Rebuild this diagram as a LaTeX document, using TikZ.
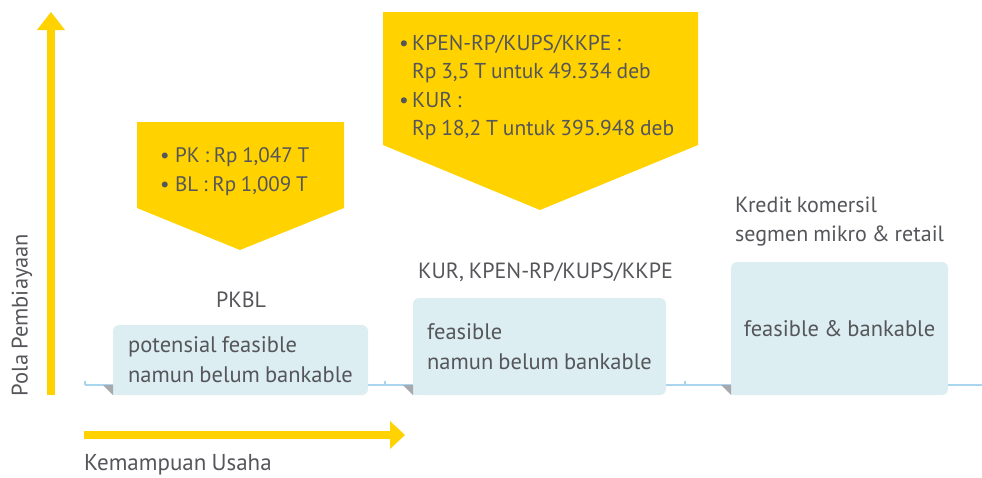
\documentclass[tikz,border=0pt]{standalone}
\usepackage{fontspec}
\setmainfont[WordSpace=0.85]{PT Sans}
\definecolor{axisyellow}{HTML}{FFD200}
\definecolor{boxblue}{HTML}{DCEEF2}
\definecolor{lineblue}{HTML}{A9D5EE}
\definecolor{txtgray}{HTML}{55565A}
\definecolor{foldgray}{HTML}{A7A9AC}
\tikzset{
  stagebox/.style={fill=boxblue, rounded corners=6pt, inner sep=0pt, outer sep=0pt,
    anchor=south west, text=txtgray, align=left, font=\fontsize{22.5}{30}\selectfont},
  lbl/.style={text=txtgray, inner sep=0pt, font=\fontsize{22}{29}\selectfont},
  bul/.style={lbl, align=left, font=\fontsize{21.5}{28.3}\selectfont},
}
\newcommand{\bulitem}{\makebox[13pt][l]{•}}
\newcommand{\bulgap}{\hspace*{13pt}}
\newcommand{\bulitemwide}{\makebox[15pt][l]{•}}
\begin{document}
\begin{tikzpicture}[x=1pt,y=-1pt]
\useasboundingbox (0,0) rectangle (982,477);

% axes
\fill[axisyellow] (47,30) rectangle (55,395);
\fill[axisyellow] (37,30) -- (65,30) -- (51,12) -- cycle;
\fill[axisyellow] (84,431) rectangle (391,439);
\fill[axisyellow] (390,421) -- (405,435) -- (390,449) -- cycle;
\node[lbl, rotate=90, font=\fontsize{22.5}{29}\selectfont] (yaxis) at (22,315) {Pola Pembiayaan};
\node[lbl, anchor=west, font=\fontsize{23}{29}\selectfont] (xaxis) at (84,465) {Kemampuan Usaha};

% ground line with ticks
\draw[lineblue, line width=1.3pt] (85,385) -- (982,385);
\foreach \tx in {85,385,685} \draw[lineblue, line width=1.2pt] (\tx,381) -- (\tx,385);

% stage boxes
\node[stagebox, minimum width=255, minimum height=70] (b1) at (113,395)
  {potensial feasible\\namun belum bankable};
\node[stagebox, minimum width=253, minimum height=97] (b2) at (413,395)
  {feasible\\namun belum bankable};
\node[stagebox, minimum width=217, minimum height=133] (b3) at (731,395)
  {feasible \& bankable};
\foreach \b in {b1,b2,b3}{
  \fill[boxblue] (\b.south west) rectangle ++(8,-8);
  \fill[foldgray] (\b.south west) -- ++(0,-10) -- ++(-10,0) -- cycle;
}

% stage labels
\node[lbl] (l1) at (241,300) {PKBL};
\node[lbl, anchor=west] (l2) at (418,272) {KUR, KPEN-RP/KUPS/KKPE};
\node[lbl, anchor=west, align=left] (l3) at (735,221.5) {Kredit komersil\\segmen mikro \& retail};

% chevrons
\fill[axisyellow] (137,122) -- (344,122) -- (344,208) -- (240,250) -- (137,208) -- cycle;
\fill[axisyellow] (383,12) -- (698,12) -- (698,145) -- (540,210) -- (383,145) -- cycle;
\node[bul, anchor=west, font=\fontsize{21}{29}\selectfont] (c1) at (160,172)
  {\bulitemwide PK : Rp 1,047 T\\\bulitemwide BL : Rp 1,009 T};
\node[bul, anchor=west] (c2) at (399,87.5)
  {\bulitem KPEN-RP/KUPS/KKPE :\\\bulgap Rp 3,5 T untuk 49.334 deb\\\bulitem KUR :\\\bulgap Rp 18,2 T untuk 395.948 deb};
\end{tikzpicture}
\end{document}
